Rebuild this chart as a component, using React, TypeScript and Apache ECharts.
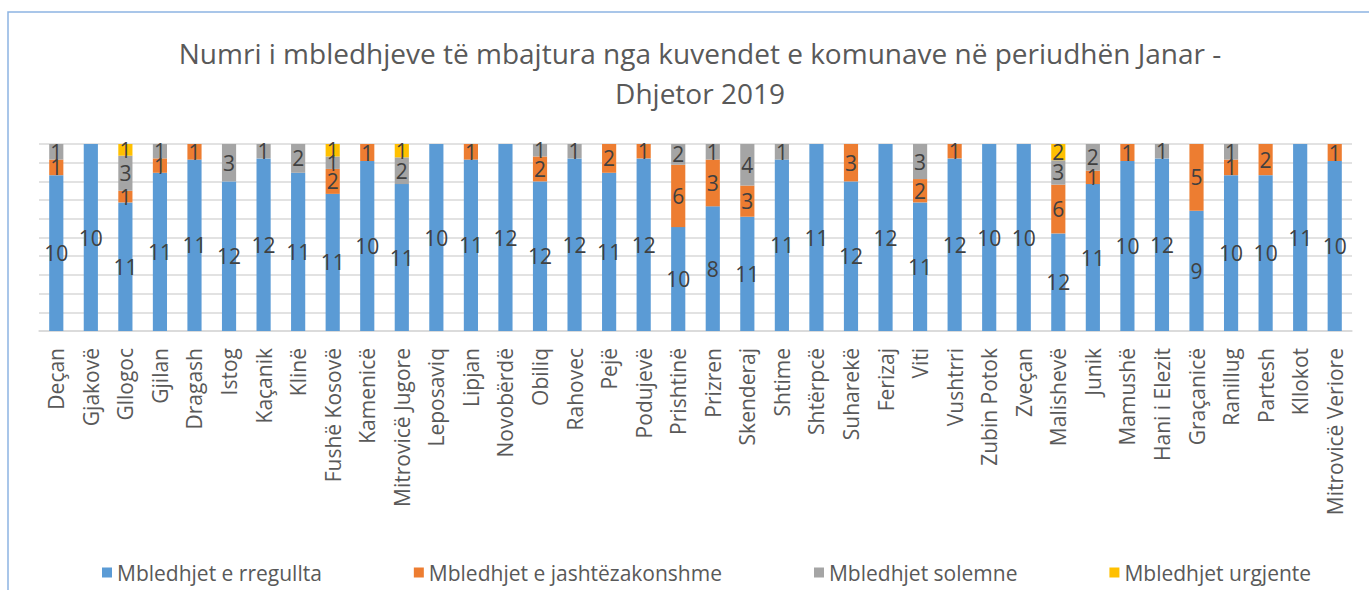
import React, { useEffect, useRef } from "react";
import * as echarts from "echarts";

const categories = [
  "Deçan", "Gjakovë", "Gllogoc", "Gjilan", "Dragash", "Istog", "Kaçanik", "Klinë",
  "Fushë Kosovë", "Kamenicë", "Mitrovicë Jugore", "Leposaviq", "Lipjan", "Novobërdë",
  "Obiliq", "Rahovec", "Pejë", "Podujevë", "Prishtinë", "Prizren", "Skenderaj", "Shtime",
  "Shtërpcë", "Suharekë", "Ferizaj", "Viti", "Vushtrri", "Zubin Potok", "Zveçan",
  "Malishevë", "Junik", "Mamushë", "Hani i Elezit", "Graçanicë", "Ranillug", "Partesh",
  "Kllokot", "Mitrovicë Veriore",
];

const regular = [10, 10, 11, 11, 11, 12, 12, 11, 11, 10, 11, 10, 11, 12, 12, 12, 11, 12, 10, 8, 11, 11, 11, 12, 12, 11, 12, 10, 10, 12, 11, 10, 12, 9, 10, 10, 11, 10];
const extraordinary = [1, 0, 1, 1, 1, 0, 0, 0, 2, 1, 0, 0, 1, 0, 2, 0, 2, 1, 6, 3, 3, 0, 0, 3, 0, 2, 1, 0, 0, 6, 1, 1, 0, 5, 1, 2, 0, 1];
const solemn = [1, 0, 3, 1, 0, 3, 1, 2, 1, 0, 2, 0, 0, 0, 1, 1, 0, 0, 2, 1, 4, 1, 0, 0, 0, 3, 0, 0, 0, 3, 2, 0, 1, 0, 1, 0, 0, 0];
const urgent = [0, 0, 1, 0, 0, 0, 0, 0, 1, 0, 1, 0, 0, 0, 0, 0, 0, 0, 0, 0, 0, 0, 0, 0, 0, 0, 0, 0, 0, 2, 0, 0, 0, 0, 0, 0, 0, 0];

const seriesNames = [
  "Mbledhjet e rregullta",
  "Mbledhjet e jashtëzakonshme",
  "Mbledhjet solemne",
  "Mbledhjet urgjente",
];
const seriesColors = ["#5B9BD5", "#ED7D31", "#A5A5A5", "#FFC000"];
const titleText = "Numri i mbledhjeve të mbajtura nga kuvendet e komunave në periudhën Janar -\nDhjetor 2019";

const FONT = "'Open Sans', 'Noto Sans', sans-serif";

export default function App() {
  const ref = useRef<HTMLDivElement>(null);
  useEffect(() => {
    if (!ref.current) return;
    const chart = echarts.init(ref.current, undefined, { renderer: "svg" });
    const raw = [regular, extraordinary, solemn, urgent];
    const totals = categories.map((_, i) => raw.reduce((s, arr) => s + arr[i], 0));
    const series = raw.map((arr, si) => ({
      name: seriesNames[si],
      type: "bar",
      stack: "total",
      barWidth: "41%",
      itemStyle: { color: seriesColors[si] },
      data: arr.map((v, i) => (v / totals[i]) * 100),
      label: {
        show: true,
        position: "inside",
        color: "#404040",
        fontSize: 21,
        fontFamily: FONT,
        formatter: (p: any) => (arr[p.dataIndex] ? String(arr[p.dataIndex]) : ""),
      },
    }));
    chart.setOption({
      animation: false,
      backgroundColor: "#ffffff",
      title: {
        text: titleText,
        left: 695,
        top: 28,
        textAlign: "center",
        textStyle: {
          color: "#595959",
          fontSize: 28,
          fontWeight: "normal",
          fontFamily: FONT,
          lineHeight: 40,
        },
      },
      graphic: [
        {
          type: "rect",
          shape: { x: 8, y: 12, width: 1500, height: 800 },
          style: { fill: "none", stroke: "#8DB4E2", lineWidth: 1.5 },
          silent: true,
        },
      ],
      legend: {
        bottom: 2,
        left: 97,
        itemWidth: 10,
        itemHeight: 10,
        itemGap: 92,
        icon: "rect",
        textStyle: { color: "#595959", fontSize: 21, fontFamily: FONT },
        data: seriesNames,
      },
      grid: { left: 39, right: 17, top: 144, bottom: 259 },
      xAxis: {
        type: "category",
        data: categories,
        axisLine: { show: true, lineStyle: { color: "#D9D9D9", width: 1.5 } },
        axisTick: { show: false },
        axisLabel: {
          rotate: 90,
          interval: 0,
          color: "#595959",
          fontSize: 21,
          fontFamily: FONT,
          margin: 17,
        },
      },
      yAxis: {
        type: "value",
        min: 0,
        max: 100,
        interval: 10,
        axisLabel: { show: false },
        axisLine: { show: false },
        axisTick: { show: false },
        splitLine: { lineStyle: { color: "#D9D9D9", width: 1.5 } },
      },
      series,
    });
    return () => chart.dispose();
  }, []);
  return (
    <div
      ref={ref}
      style={{ position: "absolute", left: 0, top: 0, width: 1369, height: 590 }}
    />
  );
}
